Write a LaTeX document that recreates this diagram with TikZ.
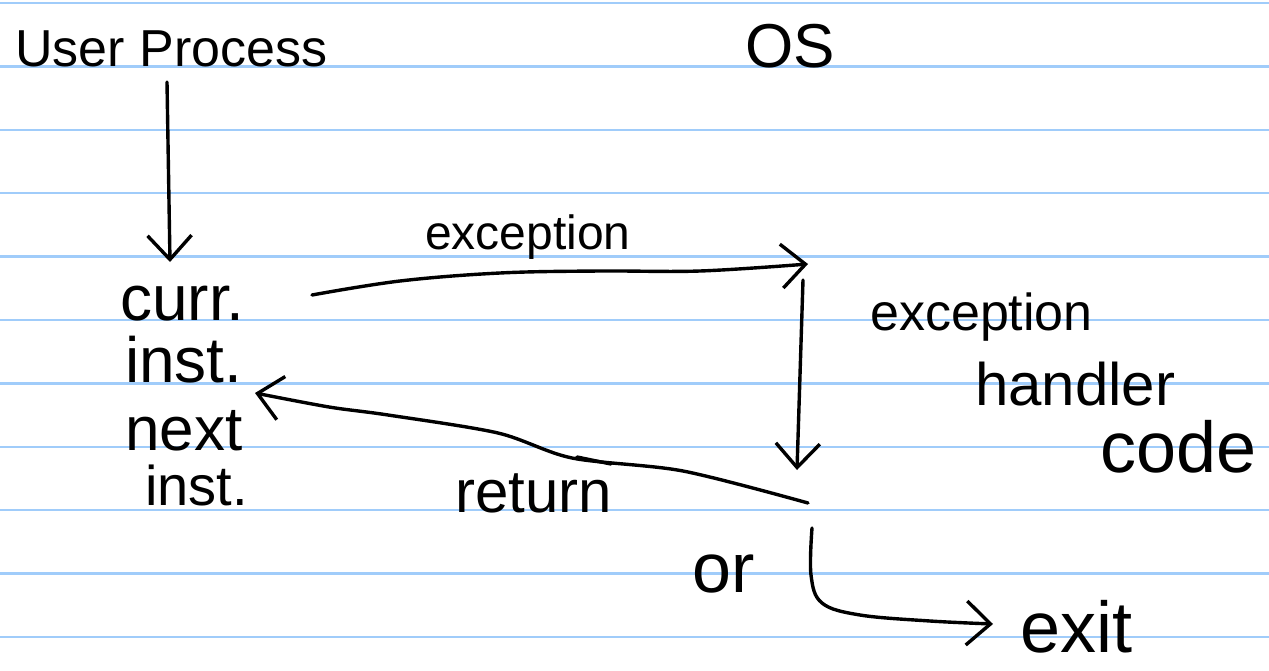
\documentclass[tikz,border=0pt]{standalone}
\usepackage{fontspec}
\setmainfont{Liberation Sans}
\usetikzlibrary{arrows.meta}
\definecolor{rule}{RGB}{160,204,250}
\tikzset{
  hand/.style={font=\fontsize{#1}{#1}\selectfont, anchor=base west, inner sep=0pt, text=black},
  hand/.default=60,
  pen/.style={line width=3.4pt, line cap=round, line join=round, black},
  arr/.style={pen, -{Straight Barb[length=24pt,width=44pt,line width=3.4pt]}},
}
\begin{document}
\begin{tikzpicture}[x=1pt,y=-1pt]
\useasboundingbox[fill=white] (0,0) rectangle (1269,671);
% ruled paper
\foreach \k in {0,...,10}{
  \draw[rule, line width=2.4pt] (0,3+63.4*\k) -- (1269,3+63.4*\k);
}
% labels
\node[hand=52] (user) at (15,67) {User Process};
\node[hand=62] (os) at (745,68) {OS};
\node[hand=64] (curr) at (120,320) {curr.};
\node[hand=64] (inst1) at (125,382) {inst.};
\node[hand=62] (next) at (125,450) {next};
\node[hand=56] (inst2) at (145,505) {inst.};
\node[hand=48] (lexc) at (425,250) {exception};
\node[hand=52] (hexc) at (870,330) {exception};
\node[hand=60] (hand) at (975,405) {handler};
\node[hand=72] (code) at (1100,472) {code};
\node[hand=60] (ret) at (455,512) {return};
\node[hand=70] (or) at (692,592) {or};
\node[hand=72] (exit) at (1020,652) {exit};
% connector end points
\coordinate (a0) at (167,82);
\coordinate (a1) at (170,262);
\coordinate (e0) at (312,295);
\coordinate (e1) at (808,264);
\coordinate (d0) at (803,280);
\coordinate (d1) at (797,470);
\coordinate (r0) at (808,503);
\coordinate (r1) at (255,393);
\coordinate (x0) at (812,528);
\coordinate (x1) at (993,624);
% connectors
\draw[arr] (a0) -- (a1);
\draw[arr] plot[smooth, tension=0.6] coordinates {(e0) (400,281) (500,273) (600,271) (700,271) (e1)};
\draw[arr] (d0) -- (d1);
\draw[arr] plot[smooth, tension=0.5] coordinates {(r0) (683,471) (572,458) (498,433) (388,415) (329,407) (r1)};
\draw[pen] (577,457) -- (611,464);
\draw[arr] plot[smooth, tension=0.6] coordinates {(x0) (811,575) (822,603) (860,615) (930,621) (x1)};
\end{tikzpicture}
\end{document}
